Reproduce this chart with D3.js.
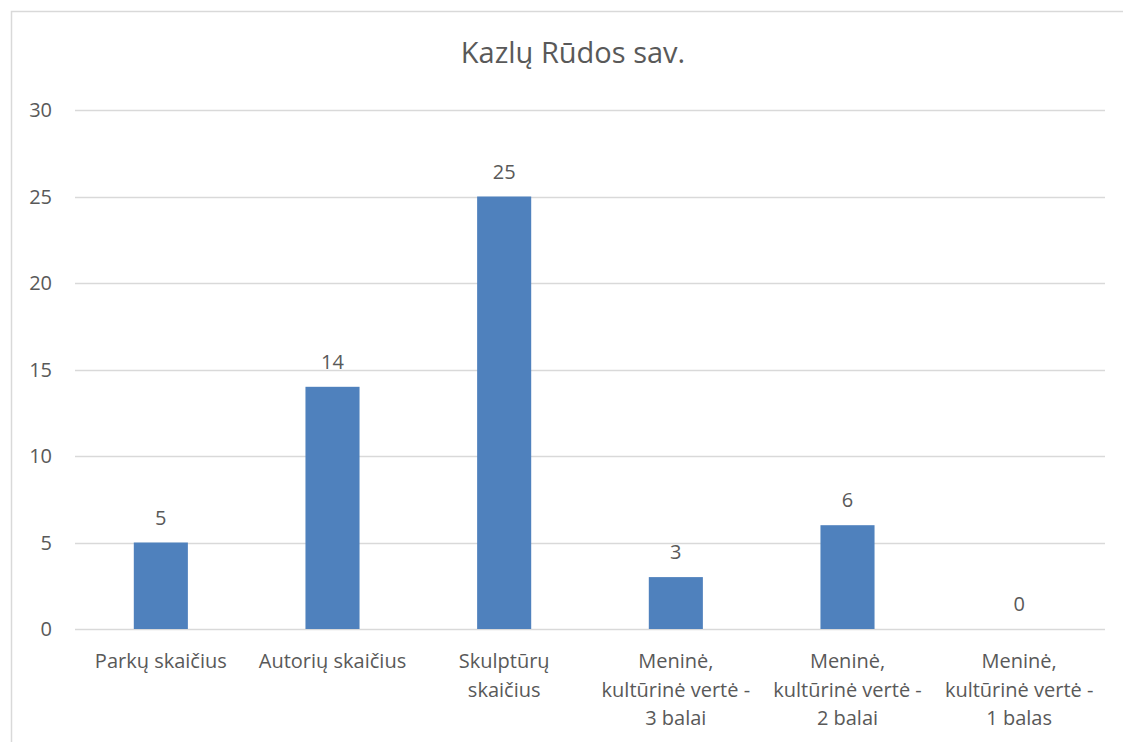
<!DOCTYPE html>
<html>
<head>
<meta charset="utf-8">
<script src="https://cdn.jsdelivr.net/npm/d3@7"></script>
<style>
  body { margin: 0; background: #fff; }
  text { font-family: "Open Sans", "Noto Sans", sans-serif; fill: #595959; }
</style>
</head>
<body>
<div id="chart"></div>
<script>
var width = 1123,
    height = 742;
var margin = {top: 110, right: 18, bottom: 113, left: 75};

var title = 'Kazlų Rūdos sav.';
var categories = ['Parkų skaičius', 'Autorių skaičius', 'Skulptūrų\nskaičius',
  'Meninė,\nkultūrinė vertė -\n3 balai', 'Meninė,\nkultūrinė vertė -\n2 balai',
  'Meninė,\nkultūrinė vertė -\n1 balas'];
var values = [5, 14, 25, 3, 6, 0];
var yTicks = [0, 5, 10, 15, 20, 25, 30];

var svg = d3.select('#chart').append('svg')
  .attr('width', width)
  .attr('height', height);

// chart frame (cut off at right and bottom)
svg.append('rect')
  .attr('x', 11.5).attr('y', 11.5)
  .attr('width', width + 20).attr('height', height + 20)
  .attr('fill', 'none')
  .attr('stroke', '#d9d9d9')
  .attr('stroke-width', 1.5);

var x = d3.scaleBand()
  .domain(categories)
  .range([margin.left, width - margin.right])
  .paddingInner(0.685)
  .paddingOuter(0.3425);

var y = d3.scaleLinear()
  .domain([0, 30])
  .range([height - margin.bottom, margin.top]);

// gridlines
svg.append('g')
  .selectAll('line')
  .data(yTicks)
  .enter().append('line')
  .attr('x1', margin.left)
  .attr('x2', width - margin.right)
  .attr('y1', d => Math.round(y(d)) + 0.5)
  .attr('y2', d => Math.round(y(d)) + 0.5)
  .attr('stroke', '#d9d9d9')
  .attr('stroke-width', 1.5);

// y tick labels
svg.append('g')
  .selectAll('text')
  .data(yTicks)
  .enter().append('text')
  .attr('x', 52)
  .attr('y', d => y(d))
  .attr('dy', '0.35em')
  .attr('text-anchor', 'end')
  .style('font-size', '20px')
  .text(d => d);

// bars
svg.append('g')
  .selectAll('rect')
  .data(values)
  .enter().append('rect')
  .attr('x', (d, i) => x(categories[i]))
  .attr('width', x.bandwidth())
  .attr('y', d => y(d))
  .attr('height', d => y(0) - y(d))
  .attr('fill', '#4f81bd');

// value labels
svg.append('g')
  .selectAll('text')
  .data(values)
  .enter().append('text')
  .attr('x', (d, i) => x(categories[i]) + x.bandwidth() / 2)
  .attr('y', d => y(d) - 25)
  .attr('dy', '0.35em')
  .attr('text-anchor', 'middle')
  .style('font-size', '20px')
  .text(d => d);

// category labels, one tspan per line
var catLabels = svg.append('g')
  .selectAll('text')
  .data(categories)
  .enter().append('text')
  .attr('x', d => x(d) + x.bandwidth() / 2)
  .attr('y', 661)
  .attr('text-anchor', 'middle')
  .style('font-size', '20px');

catLabels.each(function(d) {
  var t = d3.select(this);
  d.split('\n').forEach((line, i) => {
    t.append('tspan')
      .attr('x', t.attr('x'))
      .attr('y', 661 + i * 28.5)
      .attr('dy', '0.35em')
      .text(line);
  });
});

// title
svg.append('text')
  .attr('x', 573)
  .attr('y', 53)
  .attr('dy', '0.35em')
  .attr('text-anchor', 'middle')
  .style('font-size', '29px')
  .text(title);
</script>
</body>
</html>
